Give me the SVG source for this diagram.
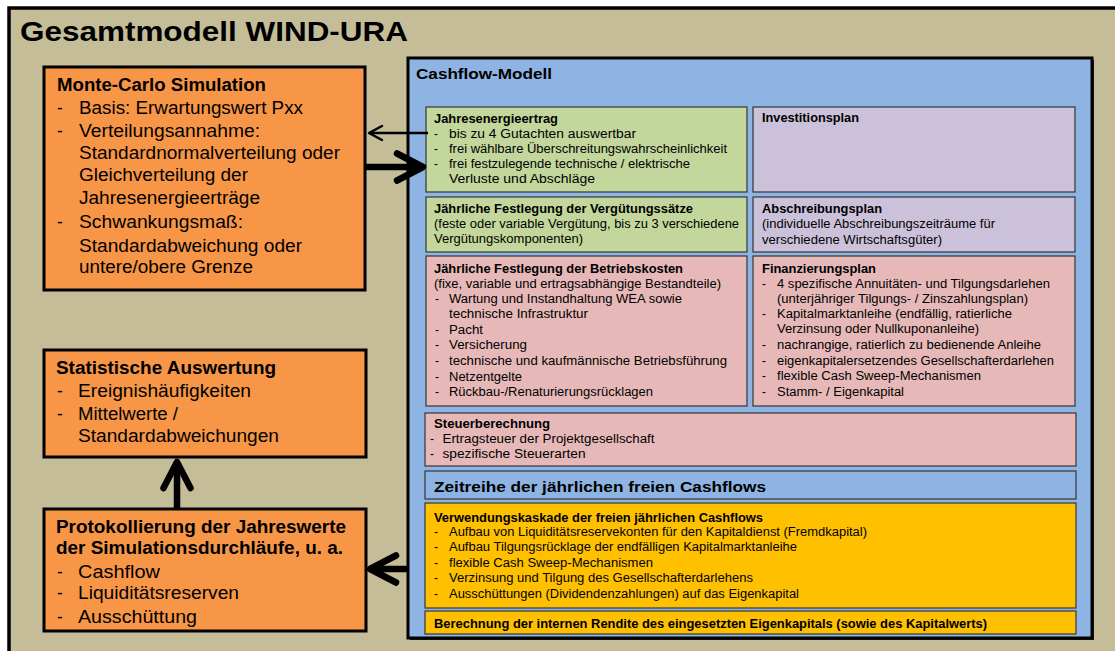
<svg xmlns="http://www.w3.org/2000/svg" width="1115" height="651" viewBox="0 0 1115 651">
<style>
text { font-family: "Liberation Sans", Arial, sans-serif; fill: #000; }
.big { font-size: 28px; font-weight: bold; }
.oh { font-size: 18px; font-weight: bold; }
.ob { font-size: 17.5px; }
.ch { font-size: 15.5px; font-weight: bold; }
.sh { font-size: 12px; font-weight: bold; }
.sb { font-size: 12px; }
.obox { fill: #F79646; stroke: #000; stroke-width: 3; }
.ibox { stroke: #3F3F3F; stroke-width: 1.3; }
.green { fill: #C3D69B; }
.lav { fill: #CCC1DA; }
.pink { fill: #E6B9B8; }
.blue { fill: #8EB4E3; }
.gold { fill: #FFC000; }
.shaft { fill: none; stroke: #000; stroke-linecap: butt; }
.thick { stroke-width: 6.5; }
.thin { stroke-width: 2.5; }
</style>
<defs>
<marker id="chev" markerUnits="userSpaceOnUse" orient="auto" refX="0" refY="0" markerWidth="40" markerHeight="40" overflow="visible">
<path d="M-26,-13.5 L0,0 L-26,13.5" fill="none" stroke="#000" stroke-width="6.5" stroke-linecap="round" stroke-linejoin="round"/>
</marker>
<marker id="chev-thin" markerUnits="userSpaceOnUse" orient="auto" refX="0" refY="0" markerWidth="20" markerHeight="20" overflow="visible">
<path d="M-13,-7 L0,0 L-13,7" fill="none" stroke="#000" stroke-width="2.5" stroke-linecap="round" stroke-linejoin="round"/>
</marker>
</defs>
<rect width="1115" height="651" fill="#FFFFFF"/>
<g id="frame">
<rect x="9" y="8" width="1130" height="670" fill="#C4BD97" stroke="#000" stroke-width="3.5"/>
<text class="big" x="20" y="41" textLength="388" lengthAdjust="spacingAndGlyphs">Gesamtmodell WIND-URA</text>
</g>
<g id="monte-carlo">
<rect class="obox" x="44" y="67" width="321" height="223"/>
<text class="oh" x="57" y="91" textLength="209" lengthAdjust="spacingAndGlyphs">Monte-Carlo Simulation</text>
<text class="ob" x="57" y="114">-</text>
<text class="ob" x="79" y="114" textLength="224" lengthAdjust="spacingAndGlyphs">Basis: Erwartungswert Pxx</text>
<text class="ob" x="57" y="137">-</text>
<text class="ob" x="79" y="137" textLength="181" lengthAdjust="spacingAndGlyphs">Verteilungsannahme:</text>
<text class="ob" x="79" y="159" textLength="261" lengthAdjust="spacingAndGlyphs">Standardnormalverteilung oder</text>
<text class="ob" x="79" y="181" textLength="169" lengthAdjust="spacingAndGlyphs">Gleichverteilung der</text>
<text class="ob" x="79" y="204" textLength="181" lengthAdjust="spacingAndGlyphs">Jahresenergieerträge</text>
<text class="ob" x="57" y="228">-</text>
<text class="ob" x="79" y="228" textLength="164" lengthAdjust="spacingAndGlyphs">Schwankungsmaß:</text>
<text class="ob" x="79" y="252" textLength="223" lengthAdjust="spacingAndGlyphs">Standardabweichung oder</text>
<text class="ob" x="79" y="273" textLength="174" lengthAdjust="spacingAndGlyphs">untere/obere Grenze</text>
</g>
<g id="statistik">
<rect class="obox" x="44" y="350" width="322" height="107"/>
<text class="oh" x="56" y="374" textLength="220" lengthAdjust="spacingAndGlyphs">Statistische Auswertung</text>
<text class="ob" x="57" y="397">-</text>
<text class="ob" x="78" y="397" textLength="173" lengthAdjust="spacingAndGlyphs">Ereignishäufigkeiten</text>
<text class="ob" x="57" y="420">-</text>
<text class="ob" x="78" y="420" textLength="100" lengthAdjust="spacingAndGlyphs">Mittelwerte /</text>
<text class="ob" x="78" y="442" textLength="201" lengthAdjust="spacingAndGlyphs">Standardabweichungen</text>
</g>
<g id="protokoll">
<rect class="obox" x="44" y="509" width="322" height="122"/>
<text class="oh" x="56" y="533" textLength="290" lengthAdjust="spacingAndGlyphs">Protokollierung der Jahreswerte</text>
<text class="oh" x="56" y="554" textLength="287" lengthAdjust="spacingAndGlyphs">der Simulationsdurchläufe, u. a.</text>
<text class="ob" x="57" y="578">-</text>
<text class="ob" x="78" y="578" textLength="82" lengthAdjust="spacingAndGlyphs">Cashflow</text>
<text class="ob" x="57" y="599">-</text>
<text class="ob" x="78" y="599" textLength="161" lengthAdjust="spacingAndGlyphs">Liquiditätsreserven</text>
<text class="ob" x="57" y="623">-</text>
<text class="ob" x="78" y="623" textLength="119" lengthAdjust="spacingAndGlyphs">Ausschüttung</text>
</g>
<g id="cashflow-modell">
<rect x="410" y="60" width="684" height="580" fill="#1A1A1A"/>
<rect class="blue" x="408" y="58" width="684" height="580" stroke="#000" stroke-width="3"/>
<text class="ch" x="416" y="79" textLength="136" lengthAdjust="spacingAndGlyphs">Cashflow-Modell</text>
</g>
<g id="jahresenergieertrag">
<rect class="ibox green" x="426" y="107" width="321" height="85"/>
<text class="sh" x="434" y="123" textLength="124" lengthAdjust="spacingAndGlyphs">Jahresenergieertrag</text>
<text class="sb" x="434" y="138">-</text>
<text class="sb" x="449" y="138" textLength="187" lengthAdjust="spacingAndGlyphs">bis zu 4 Gutachten auswertbar</text>
<text class="sb" x="434" y="153">-</text>
<text class="sb" x="449" y="153" textLength="278" lengthAdjust="spacingAndGlyphs">frei wählbare Überschreitungswahrscheinlichkeit</text>
<text class="sb" x="434" y="168">-</text>
<text class="sb" x="449" y="168" textLength="241" lengthAdjust="spacingAndGlyphs">frei festzulegende technische / elektrische</text>
<text class="sb" x="449" y="183" textLength="146" lengthAdjust="spacingAndGlyphs">Verluste und Abschläge</text>
</g>
<g id="investitionsplan">
<rect class="ibox lav" x="753" y="107" width="322" height="85"/>
<text class="sh" x="762" y="122" textLength="97" lengthAdjust="spacingAndGlyphs">Investitionsplan</text>
</g>
<g id="verguetung">
<rect class="ibox green" x="426" y="197" width="321" height="55"/>
<text class="sh" x="434" y="213" textLength="259" lengthAdjust="spacingAndGlyphs">Jährliche Festlegung der Vergütungssätze</text>
<text class="sb" x="434" y="228" textLength="305" lengthAdjust="spacingAndGlyphs">(feste oder variable Vergütung, bis zu 3 verschiedene</text>
<text class="sb" x="434" y="243" textLength="149" lengthAdjust="spacingAndGlyphs">Vergütungskomponenten)</text>
</g>
<g id="abschreibungsplan">
<rect class="ibox lav" x="753" y="197" width="322" height="55"/>
<text class="sh" x="762" y="213" textLength="120" lengthAdjust="spacingAndGlyphs">Abschreibungsplan</text>
<text class="sb" x="762" y="228" textLength="233" lengthAdjust="spacingAndGlyphs">(individuelle Abschreibungszeiträume für</text>
<text class="sb" x="762" y="244" textLength="180" lengthAdjust="spacingAndGlyphs">verschiedene Wirtschaftsgüter)</text>
</g>
<g id="betriebskosten">
<rect class="ibox pink" x="426" y="256" width="321" height="150"/>
<text class="sh" x="434" y="273" textLength="249" lengthAdjust="spacingAndGlyphs">Jährliche Festlegung der Betriebskosten</text>
<text class="sb" x="434" y="288" textLength="287" lengthAdjust="spacingAndGlyphs">(fixe, variable und ertragsabhängige Bestandteile)</text>
<text class="sb" x="435" y="303">-</text>
<text class="sb" x="449" y="303" textLength="233" lengthAdjust="spacingAndGlyphs">Wartung und Instandhaltung WEA sowie</text>
<text class="sb" x="449" y="318" textLength="139" lengthAdjust="spacingAndGlyphs">technische Infrastruktur</text>
<text class="sb" x="435" y="334">-</text>
<text class="sb" x="449" y="334" textLength="34" lengthAdjust="spacingAndGlyphs">Pacht</text>
<text class="sb" x="435" y="349">-</text>
<text class="sb" x="449" y="349" textLength="78" lengthAdjust="spacingAndGlyphs">Versicherung</text>
<text class="sb" x="435" y="365">-</text>
<text class="sb" x="449" y="365" textLength="278" lengthAdjust="spacingAndGlyphs">technische und kaufmännische Betriebsführung</text>
<text class="sb" x="435" y="381">-</text>
<text class="sb" x="449" y="381" textLength="73" lengthAdjust="spacingAndGlyphs">Netzentgelte</text>
<text class="sb" x="435" y="396">-</text>
<text class="sb" x="449" y="396" textLength="204" lengthAdjust="spacingAndGlyphs">Rückbau-/Renaturierungsrücklagen</text>
</g>
<g id="finanzierungsplan">
<rect class="ibox pink" x="753" y="256" width="322" height="150"/>
<text class="sh" x="762" y="273" textLength="114" lengthAdjust="spacingAndGlyphs">Finanzierungsplan</text>
<text class="sb" x="762" y="288">-</text>
<text class="sb" x="777" y="288" textLength="273" lengthAdjust="spacingAndGlyphs">4 spezifische Annuitäten- und Tilgungsdarlehen</text>
<text class="sb" x="777" y="303" textLength="251" lengthAdjust="spacingAndGlyphs">(unterjähriger Tilgungs- / Zinszahlungsplan)</text>
<text class="sb" x="762" y="318">-</text>
<text class="sb" x="777" y="318" textLength="235" lengthAdjust="spacingAndGlyphs">Kapitalmarktanleihe (endfällig, ratierliche</text>
<text class="sb" x="777" y="333" textLength="202" lengthAdjust="spacingAndGlyphs">Verzinsung oder Nullkuponanleihe)</text>
<text class="sb" x="762" y="349">-</text>
<text class="sb" x="777" y="349" textLength="264" lengthAdjust="spacingAndGlyphs">nachrangige, ratierlich zu bedienende Anleihe</text>
<text class="sb" x="762" y="365">-</text>
<text class="sb" x="777" y="365" textLength="277" lengthAdjust="spacingAndGlyphs">eigenkapitalersetzendes Gesellschafterdarlehen</text>
<text class="sb" x="762" y="380">-</text>
<text class="sb" x="777" y="380" textLength="204" lengthAdjust="spacingAndGlyphs">flexible Cash Sweep-Mechanismen</text>
<text class="sb" x="762" y="396">-</text>
<text class="sb" x="777" y="396" textLength="127" lengthAdjust="spacingAndGlyphs">Stamm- / Eigenkapital</text>
</g>
<g id="steuerberechnung">
<rect class="ibox pink" x="425" y="413" width="651" height="53"/>
<text class="sh" x="434" y="428" textLength="116" lengthAdjust="spacingAndGlyphs">Steuerberechnung</text>
<text class="sb" x="430" y="443">-</text>
<text class="sb" x="442.5" y="443" textLength="212" lengthAdjust="spacingAndGlyphs">Ertragsteuer der Projektgesellschaft</text>
<text class="sb" x="430" y="458">-</text>
<text class="sb" x="442.5" y="458" textLength="143" lengthAdjust="spacingAndGlyphs">spezifische Steuerarten</text>
</g>
<g id="zeitreihe">
<rect class="ibox blue" x="425" y="471" width="651" height="28"/>
<text class="ch" x="434" y="492" textLength="332" lengthAdjust="spacingAndGlyphs">Zeitreihe der jährlichen freien Cashflows</text>
</g>
<g id="verwendungskaskade">
<rect class="ibox gold" x="425" y="503" width="651" height="105"/>
<text class="sh" x="434" y="522" textLength="329" lengthAdjust="spacingAndGlyphs">Verwendungskaskade der freien jährlichen Cashflows</text>
<text class="sb" x="434" y="536">-</text>
<text class="sb" x="449" y="536" textLength="418" lengthAdjust="spacingAndGlyphs">Aufbau von Liquiditätsreservekonten für den Kapitaldienst (Fremdkapital)</text>
<text class="sb" x="434" y="551">-</text>
<text class="sb" x="449" y="551" textLength="348" lengthAdjust="spacingAndGlyphs">Aufbau Tilgungsrücklage der endfälligen Kapitalmarktanleihe</text>
<text class="sb" x="434" y="567">-</text>
<text class="sb" x="449" y="567" textLength="204" lengthAdjust="spacingAndGlyphs">flexible Cash Sweep-Mechanismen</text>
<text class="sb" x="434" y="582">-</text>
<text class="sb" x="449" y="582" textLength="304" lengthAdjust="spacingAndGlyphs">Verzinsung und Tilgung des Gesellschafterdarlehens</text>
<text class="sb" x="434" y="598">-</text>
<text class="sb" x="449" y="598" textLength="350" lengthAdjust="spacingAndGlyphs">Ausschüttungen (Dividendenzahlungen) auf das Eigenkapital</text>
</g>
<g id="rendite">
<rect class="ibox gold" x="425" y="611" width="651" height="23"/>
<text class="sh" x="434" y="628" textLength="553" lengthAdjust="spacingAndGlyphs">Berechnung der internen Rendite des eingesetzten Eigenkapitals (sowie des Kapitalwerts)</text>
</g>
<g id="connectors">
<path class="shaft thin" d="M428,133 L369,133" marker-end="url(#chev-thin)"/>
<path class="shaft thick" d="M366,167 L423,167" marker-end="url(#chev)"/>
<path class="shaft thick" d="M177,508 L177,462" marker-end="url(#chev)"/>
<path class="shaft thick" d="M407,569 L370,569" marker-end="url(#chev)"/>
</g>
</svg>
